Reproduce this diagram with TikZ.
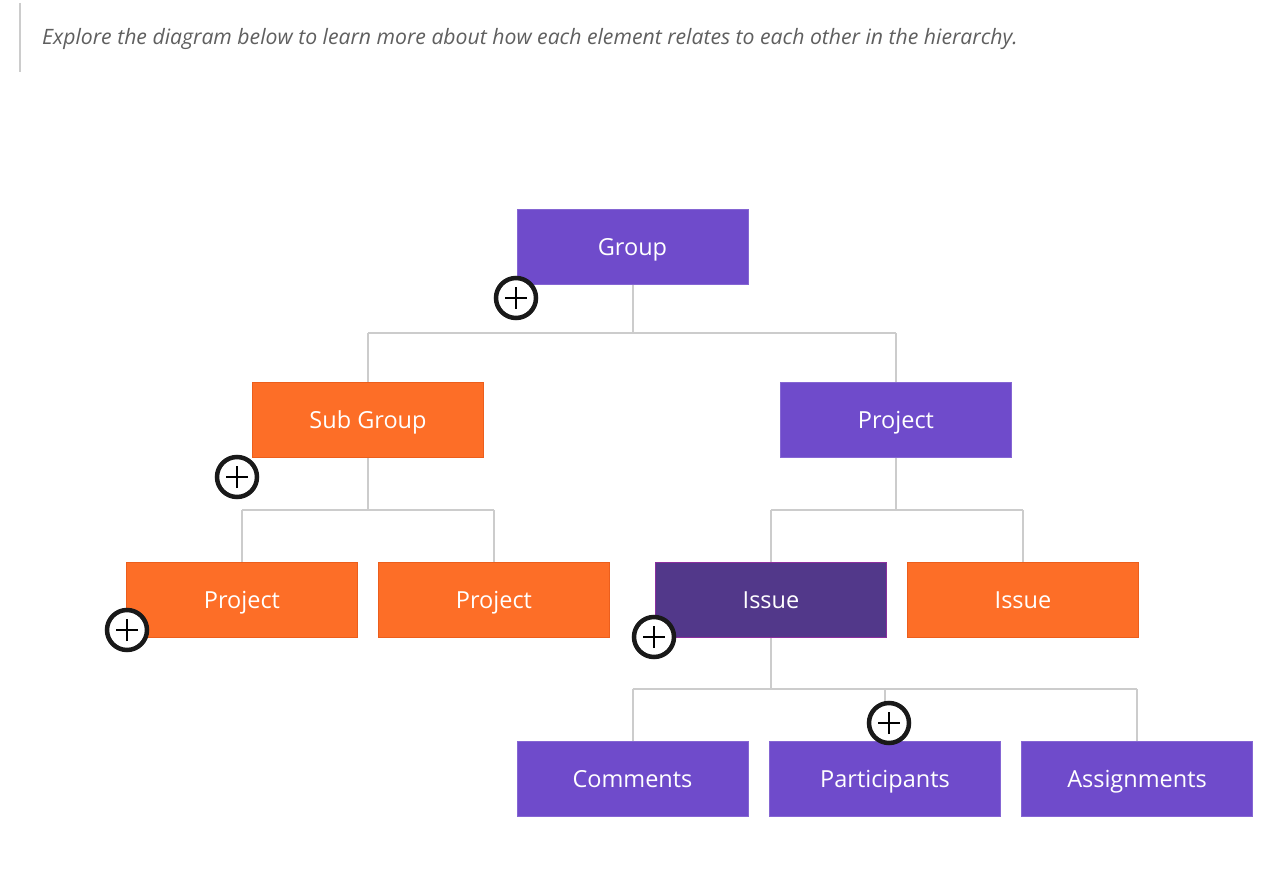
\documentclass[tikz,border=0pt]{standalone}
\usepackage{fontspec}
\setmainfont{Open Sans}
\definecolor{gpurple}{HTML}{6F4BCB}
\definecolor{gdark}{HTML}{52388A}
\definecolor{gdarkborder}{HTML}{8B2F9E}
\definecolor{gorange}{HTML}{FD6E27}
\definecolor{gorangeborder}{HTML}{EC5E1C}
\definecolor{glink}{HTML}{CCCCCC}
\definecolor{gtext}{HTML}{5F5F5F}
\begin{document}
\begin{tikzpicture}[x=1pt,y=-1pt,
  box/.style={minimum width=231pt,minimum height=75pt,inner sep=0pt,text=white,font=\fontsize{23.5}{27}\selectfont,text height=17pt,text depth=0pt,line width=1pt},
  pbox/.style={box,fill=gpurple,draw=gpurple!85!white},
  dbox/.style={box,fill=gdark,draw=gdarkborder},
  obox/.style={box,fill=gorange,draw=gorangeborder},
  link/.style={draw=glink,line width=2pt},
  plusbtn/.style={circle,fill=white,draw=black!90,line width=4.5pt,minimum size=40pt,inner sep=0pt,
    path picture={\draw[black,line width=1.4pt] ([xshift=-11pt]path picture bounding box.center) -- ([xshift=11pt]path picture bounding box.center);
                  \draw[black,line width=1.4pt] ([yshift=-11pt]path picture bounding box.center) -- ([yshift=11pt]path picture bounding box.center);}},
]
\useasboundingbox (0,0) rectangle (1285,877);
\fill[white] (0,0) rectangle (1285,877);
\draw[glink,line width=1.5pt] (20,3) -- (20,72);
\node[anchor=west,text=gtext,font=\fontsize{21.2}{24}\selectfont\itshape,inner sep=0pt,text height=15pt,text depth=0pt] (intro) at (42,37) {Explore the diagram below to learn more about how each element relates to each other in the hierarchy.};

% junction coordinates
\coordinate (j1) at (632.5,333);
\coordinate (j2) at (368,510);
\coordinate (j3) at (896,510);
\coordinate (j4) at (771,689);

\node[pbox] (group) at (632.5,247.5) {Group};
\node[obox] (subgroup) at (368,420) {Sub Group};
\node[pbox] (projR) at (896,420) {Project};
\node[obox] (projL1) at (242,600) {Project};
\node[obox] (projL2) at (494,600) {Project};
\node[dbox] (issueD) at (771,600) {Issue};
\node[obox] (issueO) at (1023,600) {Issue};
\node[pbox] (comments) at (632.5,779) {Comments};
\node[pbox] (participants) at (885,779) {Participants};
\node[pbox] (assignments) at (1137,779) {Assignments};

% connectors
\path[link] (group.south) -- (j1);
\path[link] (j1 -| subgroup.north) -- (j1 -| projR.north);
\path[link] (j1 -| subgroup.north) -- (subgroup.north);
\path[link] (j1 -| projR.north) -- (projR.north);

\path[link] (subgroup.south) -- (j2);
\path[link] (j2 -| projL1.north) -- (j2 -| projL2.north);
\path[link] (j2 -| projL1.north) -- (projL1.north);
\path[link] (j2 -| projL2.north) -- (projL2.north);

\path[link] (projR.south) -- (j3);
\path[link] (j3 -| issueD.north) -- (j3 -| issueO.north);
\path[link] (j3 -| issueD.north) -- (issueD.north);
\path[link] (j3 -| issueO.north) -- (issueO.north);

\path[link] (issueD.south) -- (j4);
\path[link] (j4 -| comments.north) -- (j4 -| assignments.north);
\path[link] (j4 -| comments.north) -- (comments.north);
\path[link] (j4 -| participants.north) -- (participants.north);
\path[link] (j4 -| assignments.north) -- (assignments.north);

% plus buttons
\node[plusbtn] (b1) at (516,298) {};
\node[plusbtn] (b2) at (237,477) {};
\node[plusbtn] (b3) at (127,630) {};
\node[plusbtn] (b4) at (654,637) {};
\node[plusbtn] (b5) at (889,723) {};
\end{tikzpicture}
\end{document}
